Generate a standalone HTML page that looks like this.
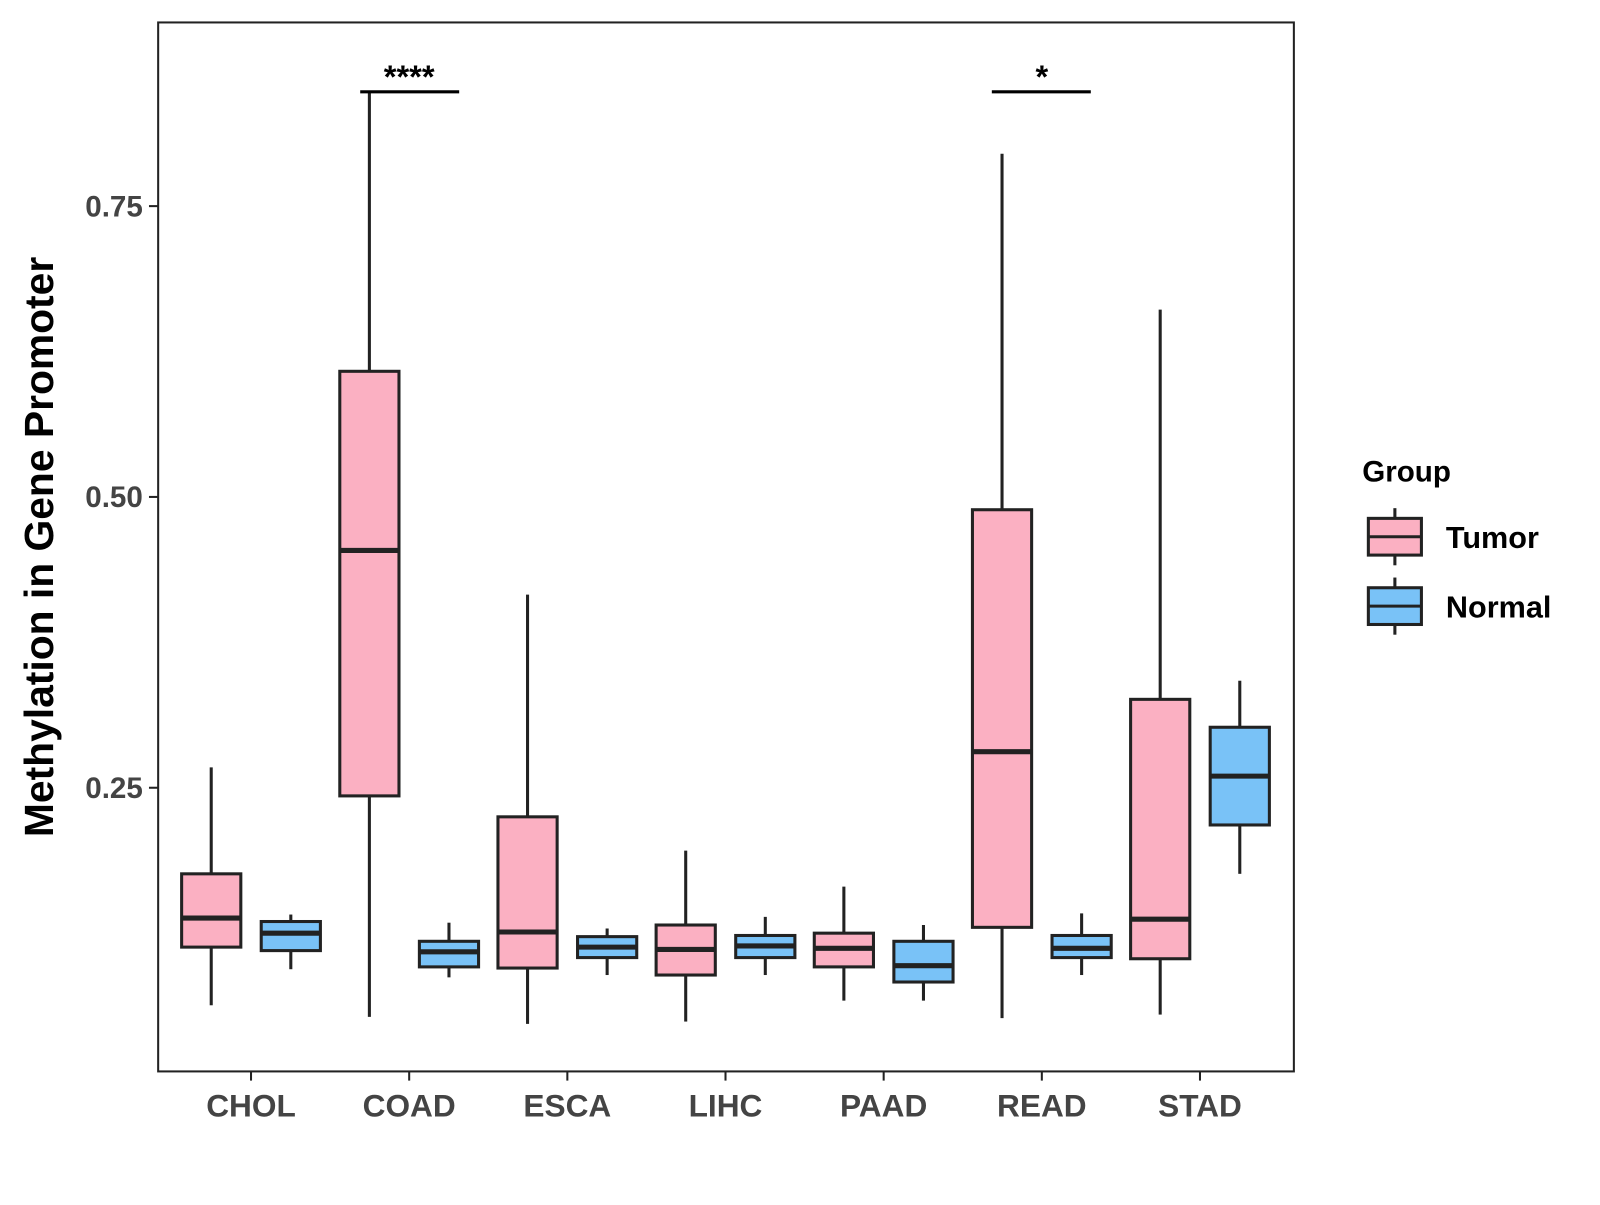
<!DOCTYPE html>
<html><head><meta charset="utf-8"><style>
body{margin:0;background:#fff;}
svg text{font-family:"Liberation Sans",Arial,sans-serif;font-weight:bold;}
</style></head><body>
<svg id="chart" width="1600" height="1200" xmlns="http://www.w3.org/2000/svg">
<g transform="scale(1.0204)">
<rect x="155" y="22" width="1113" height="1028" fill="#fff" stroke="#222" stroke-width="2"/>
<g id="ticks"></g>
<g id="boxes"></g>
<text transform="translate(52,536) rotate(-90)" text-anchor="middle" font-size="40" fill="#000">Methylation in Gene Promoter</text>
<g>
<line x1="353" y1="90" x2="450" y2="90" stroke="#000" stroke-width="3"/>
<text x="401" y="86" text-anchor="middle" font-size="32">****</text></g>
<g>
<line x1="972" y1="90" x2="1069" y2="90" stroke="#000" stroke-width="3"/>
<text x="1021" y="86" text-anchor="middle" font-size="32">*</text></g>
<g>
<text x="1335" y="472" font-size="29">Group</text>
<g>
<line x1="1367" y1="498" x2="1367" y2="554" stroke="#222" stroke-width="3"/>
<rect x="1341" y="508" width="52" height="36" fill="#fbb0c2" stroke="#222" stroke-width="3"/>
<line x1="1341" y1="526" x2="1393" y2="526" stroke="#222" stroke-width="3"/>
<text x="1417" y="537" font-size="30">Tumor</text></g>
<g>
<line x1="1367" y1="566" x2="1367" y2="622" stroke="#222" stroke-width="3"/>
<rect x="1341" y="576" width="52" height="36" fill="#79c2f7" stroke="#222" stroke-width="3"/>
<line x1="1341" y1="594" x2="1393" y2="594" stroke="#222" stroke-width="3"/>
<text x="1417" y="605" font-size="30">Normal</text></g>
</g>
</g>
</svg>
<script>
const categories=["CHOL","COAD","ESCA","LIHC","PAAD","READ","STAD"];
const tumorLow=[0.063,0.053,0.047,0.049,0.067,0.052,0.055];
const tumorQ1=[0.113,0.243,0.095,0.089,0.096,0.130,0.103];
const tumorMed=[0.138,0.454,0.126,0.111,0.112,0.281,0.137];
const tumorQ3=[0.176,0.608,0.225,0.132,0.125,0.489,0.326];
const tumorHigh=[0.2675,0.848,0.416,0.196,0.165,0.795,0.661];
const normalLow=[0.094,0.087,0.089,0.089,0.067,0.089,0.176];
const normalQ1=[0.110,0.096,0.104,0.104,0.083,0.104,0.218];
const normalMed=[0.125,0.109,0.113,0.114,0.097,0.112,0.260];
const normalQ3=[0.135,0.118,0.122,0.123,0.118,0.123,0.302];
const normalHigh=[0.141,0.134,0.129,0.139,0.132,0.142,0.342];
const yTicks=[0.25,0.50,0.75];
const yTickLabels=["0.25","0.50","0.75"];
const NS="http://www.w3.org/2000/svg";
const y=v=>487-(v-0.5)*1140;
const x=i=>246+i*155;
function mk(tag,attrs,parent){const e=document.createElementNS(NS,tag);for(const k in attrs)e.setAttribute(k,attrs[k]);parent.appendChild(e);return e;}
const tg=document.getElementById('ticks');
yTicks.forEach((t,i)=>{
 const l=mk('line',{x1:146,x2:155,y1:y(t),y2:y(t),stroke:'#222','stroke-width':2},tg);
 
 
 const tx=mk('text',{x:140,y:y(t)+10,'text-anchor':'end','font-size':29,fill:'#444'},tg);
 tx.textContent=yTickLabels[i];
 
 
});
categories.forEach((c,i)=>{
 const l=mk('line',{x1:x(i),x2:x(i),y1:1050,y2:1059,stroke:'#222','stroke-width':2},tg);
 
 
 const tx=mk('text',{x:x(i),y:1094,'text-anchor':'middle','font-size':31,fill:'#444'},tg);
 tx.textContent=c;
 
 
});
const bg=document.getElementById('boxes');
function box(cx,lo,q1,md,q3,hi,fill,name){
 const g=mk('g',{},bg);
 
 
 mk('line',{x1:cx,x2:cx,y1:y(hi),y2:y(q3),stroke:'#222','stroke-width':3},g);
 mk('line',{x1:cx,x2:cx,y1:y(q1),y2:y(lo),stroke:'#222','stroke-width':3},g);
 mk('rect',{x:cx-29,y:y(q3),width:58,height:y(q1)-y(q3),fill:fill,stroke:'#222','stroke-width':3},g);
 mk('line',{x1:cx-29,x2:cx+29,y1:y(md),y2:y(md),stroke:'#222','stroke-width':5},g);
}
categories.forEach((c,i)=>{
 box(x(i)-39,tumorLow[i],tumorQ1[i],tumorMed[i],tumorQ3[i],tumorHigh[i],'#fbb0c2','box-tumor-'+c.toLowerCase());
 box(x(i)+39,normalLow[i],normalQ1[i],normalMed[i],normalQ3[i],normalHigh[i],'#79c2f7','box-normal-'+c.toLowerCase());
});
</script>
</body></html>
